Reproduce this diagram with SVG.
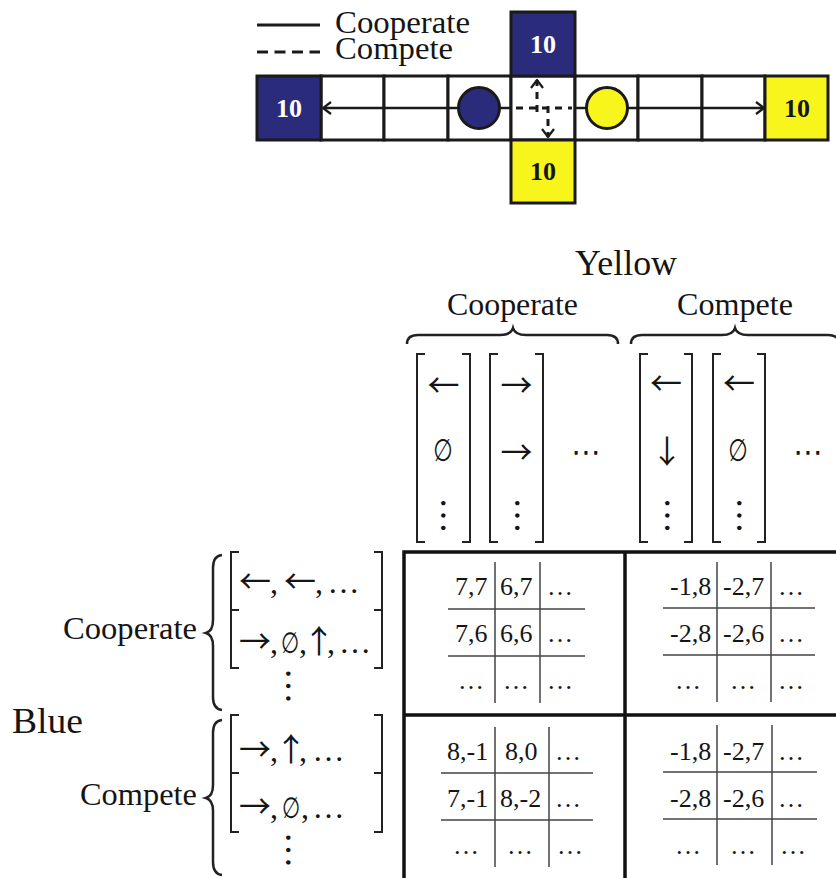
<svg xmlns="http://www.w3.org/2000/svg" width="836" height="878" viewBox="0 0 836 878">
<style>
text{font-family:"Liberation Serif","Times New Roman",serif;fill:#151515}
.lbl{font-size:32px}
.ten{font-size:26px;font-weight:bold;text-anchor:middle}
.w{fill:#fff}
.cell{fill:#fff;stroke:#1a1a1a;stroke-width:3}
.blue{fill:#2b2b7b;stroke:#1a1a1a;stroke-width:3}
.yel{fill:#f8f51d;stroke:#1a1a1a;stroke-width:3}
.ln{fill:none;stroke:#1a1a1a;stroke-width:2.5}
.dash{fill:none;stroke:#1a1a1a;stroke-width:3;stroke-dasharray:7 6}
.br{fill:none;stroke:#222;stroke-width:2}
.brace{fill:none;stroke:#222;stroke-width:2.5}
.thick{fill:none;stroke:#111;stroke-width:3.5}
.thin{fill:none;stroke:#444;stroke-width:1.5}
.num{font-size:26px}
.ar{font-family:"Noto Sans CJK JP","DejaVu Sans",sans-serif;font-size:32px;text-anchor:middle}
.sym{font-family:"DejaVu Sans",sans-serif}
.vd{font-size:37px;text-anchor:middle}
.mid{text-anchor:middle}
</style>
<defs>
<marker id="ah" viewBox="0 0 10 14" refX="9" refY="7" markerWidth="10" markerHeight="14" markerUnits="userSpaceOnUse" orient="auto"><path d="M1,1 L9,7 L1,13" fill="none" stroke="#1a1a1a" stroke-width="2.2"/></marker>
</defs>

<g id="legend">
<line x1="257" y1="25" x2="320" y2="25" stroke="#1a1a1a" stroke-width="3"/>
<line x1="257" y1="52" x2="320" y2="52" stroke="#1a1a1a" stroke-width="3" stroke-dasharray="11 6.5"/>
<text class="lbl" x="335" y="33" textLength="135" lengthAdjust="spacingAndGlyphs">Cooperate</text>
<text class="lbl" x="335" y="59" textLength="118" lengthAdjust="spacingAndGlyphs">Compete</text>
</g>

<g id="grid">
<rect class="cell" x="321" y="76" width="63" height="64"/>
<rect class="cell" x="384" y="76" width="64" height="64"/>
<rect class="cell" x="448" y="76" width="63" height="64"/>
<rect class="cell" x="511" y="76" width="64" height="64"/>
<rect class="cell" x="575" y="76" width="63" height="64"/>
<rect class="cell" x="638" y="76" width="64" height="64"/>
<rect class="cell" x="702" y="76" width="63" height="64"/>
</g>
<g id="blue-goal-left">
<rect class="blue" x="257" y="76" width="64" height="64"/>
<text class="ten w" x="289" y="117">10</text>
</g>
<g id="blue-goal-top">
<rect class="blue" x="511" y="12" width="64" height="64"/>
<text class="ten w" x="543" y="53">10</text>
</g>
<g id="yellow-goal-bottom">
<rect class="yel" x="511" y="140" width="64" height="63"/>
<text class="ten" x="543" y="180">10</text>
</g>
<g id="yellow-goal-right">
<rect class="yel" x="765" y="76" width="63" height="64"/>
<text class="ten" x="797" y="117">10</text>
</g>

<g id="connectors">
<path class="ln" d="M458,108 H323" marker-end="url(#ah)"/>
<path class="ln" d="M628,108 H764" marker-end="url(#ah)"/>
<path class="ln" d="M500,108 H511 M575,108 H586"/>
<path class="dash" d="M516,108 H572"/>
<path class="dash" d="M537,112 V80" marker-end="url(#ah)"/>
<path class="dash" d="M548,106 V137" marker-end="url(#ah)"/>
</g>

<g id="blue-agent"><circle cx="479" cy="108" r="20.5" fill="#2b2b7b" stroke="#1a1a1a" stroke-width="3"/></g>
<g id="yellow-agent"><circle cx="607" cy="108" r="20.5" fill="#f8f51d" stroke="#1a1a1a" stroke-width="3"/></g>

<g id="yellow-header">
<text class="mid" x="626" y="275" font-size="35" textLength="102" lengthAdjust="spacingAndGlyphs">Yellow</text>
<text class="lbl mid" x="512.5" y="315" textLength="131" lengthAdjust="spacingAndGlyphs">Cooperate</text>
<text class="lbl mid" x="735" y="315" textLength="116" lengthAdjust="spacingAndGlyphs">Compete</text>
<path class="brace" d="M407,344 Q407,335 418,335 H500 Q511,335 513,328 Q515,335 526,335 H607 Q618,335 618,344"/>
<path class="brace" d="M631,344 Q631,335 642,335 H722 Q733,335 735,328 Q737,335 748,335 H828 Q839,335 839,344"/>
</g>

<g id="yellow-strategies">
<path class="br" d="M425,354 H417 V542 H425 M462,354 H470 V542 H462"/>
<path class="br" d="M498,354 H490 V542 H498 M535,354 H543 V542 H535"/>
<path class="br" d="M648,354 H640 V542 H648 M684,354 H692 V542 H684"/>
<path class="br" d="M721,354 H713 V542 H721 M757,354 H765 V542 H757"/>
<text class="ar" x="443.5" y="397">←</text>
<text class="sym mid" font-size="31" transform="translate(443,461) scale(0.72,1)">∅</text>
<text class="vd" transform="translate(441,515.5) rotate(90)">…</text>
<text class="ar" x="516.5" y="397">→</text>
<text class="ar" x="516.5" y="464">→</text>
<text class="vd" transform="translate(515,515.5) rotate(90)">…</text>
<text class="sym mid" font-size="29" x="586" y="462">⋯</text>
<text class="ar" x="666" y="395">←</text>
<text class="ar" x="667" y="463">↓</text>
<text class="vd" transform="translate(665,515.5) rotate(90)">…</text>
<text class="ar" x="739" y="395">←</text>
<text class="sym mid" font-size="31" transform="translate(738,461) scale(0.72,1)">∅</text>
<text class="vd" transform="translate(737,515.5) rotate(90)">…</text>
<text class="sym mid" font-size="29" x="808" y="462">⋯</text>
</g>

<g id="blue-header">
<text x="12" y="733" font-size="35" textLength="71" lengthAdjust="spacingAndGlyphs">Blue</text>
<text x="63" y="639" font-size="31" textLength="134" lengthAdjust="spacingAndGlyphs">Cooperate</text>
<text x="80" y="805" font-size="31" textLength="117" lengthAdjust="spacingAndGlyphs">Compete</text>
<path class="brace" d="M222,555 Q213,556 213,568 V620 Q213,631 206,633 Q213,635 213,646 V697 Q213,709 222,710"/>
<path class="brace" d="M222,720 Q213,721 213,733 V785 Q213,796 206,798 Q213,800 213,811 V862 Q213,874 222,875"/>
</g>

<g id="blue-strategies">
<path class="br" d="M239,552 H231 V668 H239 M374,552 H382 V668 H374"/>
<path class="br" d="M231,610 H239 M382,610 H374" stroke-width="3"/>
<path class="br" d="M239,715 H231 V832 H239 M374,715 H382 V832 H374"/>
<path class="br" d="M231,773 H239 M382,773 H374" stroke-width="3"/>
<text font-size="32" y="593" class="mid"><tspan class="ar" x="255">←</tspan><tspan x="274">,</tspan><tspan class="ar" x="300">←</tspan><tspan x="319">,</tspan><tspan x="343.5">…</tspan></text>
<text font-size="32" y="653" class="mid"><tspan class="ar" x="255">→</tspan><tspan x="274">,</tspan><tspan x="303">,</tspan><tspan class="ar" font-size="29" x="319">↑</tspan><tspan x="331">,</tspan><tspan x="355">…</tspan></text>
<text class="sym mid" font-size="29" transform="translate(290,653) scale(0.72,1)">∅</text>
<text class="vd" transform="translate(286,686) rotate(90)">…</text>
<text font-size="32" y="761" class="mid"><tspan class="ar" x="255">→</tspan><tspan x="274">,</tspan><tspan class="ar" font-size="29" x="291">↑</tspan><tspan x="303">,</tspan><tspan x="328.5">…</tspan></text>
<text font-size="32" y="818" class="mid"><tspan class="ar" x="255">→</tspan><tspan x="274">,</tspan><tspan x="305">,</tspan><tspan x="328.5">…</tspan></text>
<text class="sym mid" font-size="29" transform="translate(291,818) scale(0.72,1)">∅</text>
<text class="vd" transform="translate(286,850) rotate(90)">…</text>
</g>

<g id="payoff-table">
<path class="thick" d="M404,878 V552 H836 M625,552 V878 M404,715 H836"/>
<path class="thin" d="M495,562 V703 M540,562 V703 M448,609 H585 M448,656 H585"/>
<path class="thin" d="M717,562 V702 M771,562 V702 M663,608 H815 M663,655 H815"/>
<path class="thin" d="M495,727 V867 M549,727 V867 M441,773 H593 M441,820 H593"/>
<path class="thin" d="M717,725 V865 M772,725 V865 M663,772 H817 M663,819 H817"/>
<g class="num">
<text x="455" y="595">7,7</text><text x="500" y="595">6,7</text><text x="547" y="595">…</text>
<text x="455" y="642">7,6</text><text x="500" y="642">6,6</text><text x="547" y="642">…</text>
<text x="458" y="689">…</text><text x="503" y="689">…</text><text x="547" y="689">…</text>
<text x="670" y="595">-1,8</text><text x="723" y="595">-2,7</text><text x="778" y="595">…</text>
<text x="670" y="642">-2,8</text><text x="723" y="642">-2,6</text><text x="778" y="642">…</text>
<text x="675" y="689">…</text><text x="730" y="689">…</text><text x="778" y="689">…</text>
<text x="447" y="760">8,-1</text><text x="505" y="760">8,0</text><text x="555" y="760">…</text>
<text x="447" y="807">7,-1</text><text x="500" y="807">8,-2</text><text x="555" y="807">…</text>
<text x="453" y="854">…</text><text x="507" y="854">…</text><text x="557" y="854">…</text>
<text x="670" y="760">-1,8</text><text x="723" y="760">-2,7</text><text x="778" y="760">…</text>
<text x="670" y="807">-2,8</text><text x="723" y="807">-2,6</text><text x="778" y="807">…</text>
<text x="675" y="854">…</text><text x="730" y="854">…</text><text x="780" y="854">…</text>
</g>
</g>
</svg>
